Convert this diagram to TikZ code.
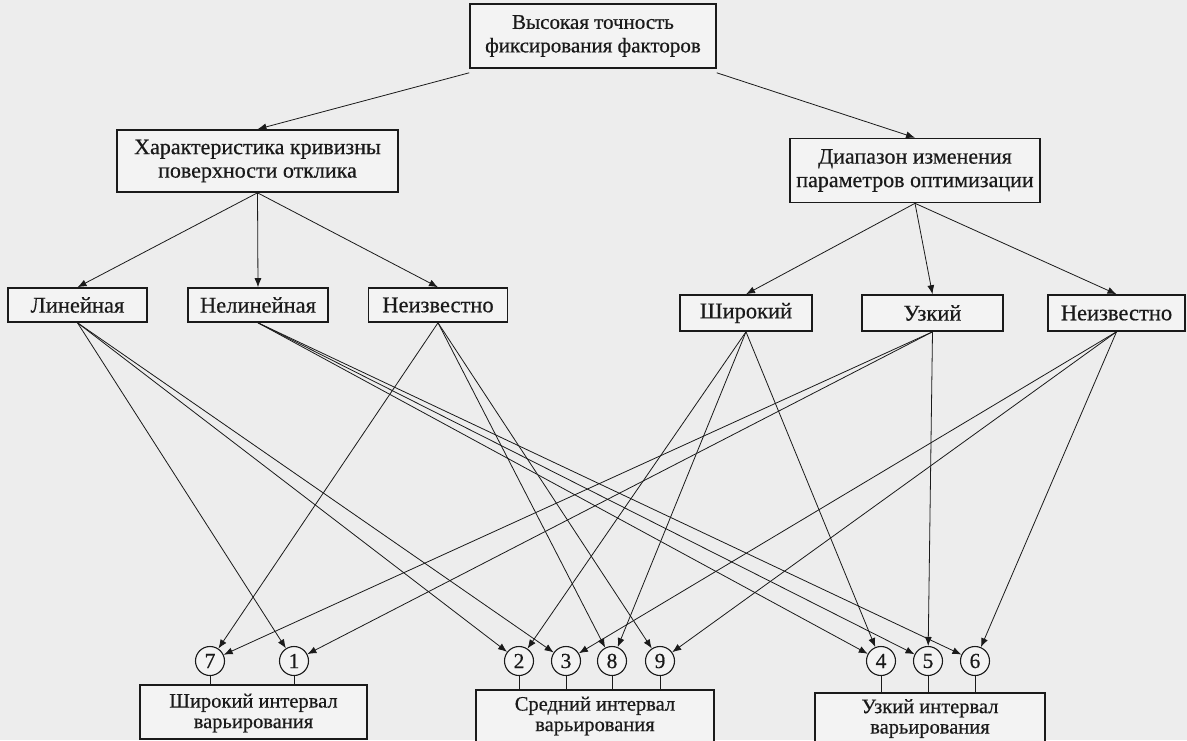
\documentclass[tikz,border=0pt]{standalone}
\usepackage{fontspec}
\setmainfont{Liberation Serif}[FakeBold=0.5]
\usetikzlibrary{arrows.meta}
\definecolor{paper}{HTML}{EDEDED}
\definecolor{boxfill}{HTML}{F3F3F3}
\definecolor{ink}{HTML}{1A1A1A}
\begin{document}
\begin{tikzpicture}[x=1pt,y=-1pt,
  box/.style={draw=ink, fill=boxfill, line width=1.6pt, align=center, inner sep=0pt,
    font=\fontsize{22}{23.5}\selectfont, text=ink},
  txt/.style={align=center, inner sep=0pt, font=\fontsize{20.5}{20.5}\selectfont, text=ink},
  lab/.style={draw=ink, fill=boxfill, line width=1.6pt, inner sep=0pt,
    font=\fontsize{22.5}{24}\selectfont, text=ink},
  num/.style={draw=ink, fill=boxfill, circle, line width=1.1pt, minimum size=29pt, inner sep=0pt,
    font=\fontsize{21.5}{22}\selectfont, text=ink},
  conn/.style={draw=ink, line width=0.8pt, -{Latex[length=9pt,width=7pt]}},
  tie/.style={draw=ink, line width=0.8pt}]
\useasboundingbox (0,0) rectangle (1187,740);
\clip (0,0) rectangle (1187,740);
\fill[paper] (0,0) rectangle (1187,740);

% top level
\node[box, minimum width=246pt, minimum height=64pt, font=\fontsize{21}{23.5}\selectfont] (top) at (593,36)
  {Высокая точность\\фиксирования факторов};
\node[box, minimum width=281pt, minimum height=62pt] (curv) at (257.5,161)
  {Характеристика кривизны\\поверхности отклика};
\node[box, minimum width=250pt, minimum height=64pt] (range) at (915,170.5)
  {Диапазон изменения\\параметров оптимизации};

% second level
\node[lab, minimum width=139pt, minimum height=34pt] (lin) at (77.5,305) {Линейная};
\node[lab, minimum width=140pt, minimum height=34pt] (nonlin) at (258,305) {Нелинейная};
\node[lab, minimum width=139pt, minimum height=34pt] (unkc) at (438,305) {Неизвестно};
\node[lab, minimum width=132pt, minimum height=36pt] (wide) at (746,313) {Широкий};
\node[lab, minimum width=141pt, minimum height=36pt] (narrow) at (932.5,313) {Узкий};
\node[lab, minimum width=137pt, minimum height=36pt] (unkr) at (1116.5,313) {Неизвестно};

% circles
\node[num] (c7) at (210,661) {7};
\node[num] (c1) at (294,661) {1};
\node[num] (c2) at (519,661) {2};
\node[num] (c3) at (566,661) {3};
\node[num] (c8) at (612,661) {8};
\node[num] (c9) at (660,661) {9};
\node[num] (c4) at (881,661) {4};
\node[num] (c5) at (928,661) {5};
\node[num] (c6) at (975,661) {6};

% bottom boxes
\node[box, minimum width=227pt, minimum height=54pt] (iwide) at (253.5,712) {};
\node[txt] (iwidet) at (253.5,713) {Широкий интервал\\варьирования};
\node[box, minimum width=238pt, minimum height=64pt] (imed) at (595,722) {};
\node[txt] (imedt) at (595,716) {Средний интервал\\варьирования};
\node[box, minimum width=230pt, minimum height=64pt] (inarrow) at (930,725) {};
\node[txt] (inarrowt) at (930,718.5) {Узкий интервал\\варьирования};

% top arrows
\draw[conn] ([yshift=-4pt]top.south west) -- (curv.north);
\draw[conn] ([yshift=-4pt]top.south east) -- (range.north);
\draw[conn] (curv.south) -- (lin.north);
\draw[conn] (curv.south) -- (nonlin.north);
\draw[conn] (curv.south) -- (unkc.north);
\draw[conn] (range.south) -- (wide.north);
\draw[conn] (range.south) -- (narrow.north);
\draw[conn] (range.south) -- (unkr.north);

% curvature -> circles
\draw[conn] (lin.south) -- (c1);
\draw[conn] (lin.south) -- (c2);
\draw[conn] (lin.south) -- (c3);
\draw[conn] (nonlin.south) -- (c4);
\draw[conn] (nonlin.south) -- (c5);
\draw[conn] (nonlin.south) -- (c6);
\draw[conn] (unkc.south) -- (c7);
\draw[conn] (unkc.south) -- (c8);
\draw[conn] (unkc.south) -- (c9);
% range -> circles
\draw[conn] (wide.south) -- (c2);
\draw[conn] (wide.south) -- (c4);
\draw[conn] (wide.south) -- (c8);
\draw[conn] (narrow.south) -- (c1);
\draw[conn] (narrow.south) -- (c5);
\draw[conn] (narrow.south) -- (c7);
\draw[conn] (unkr.south) -- (c3);
\draw[conn] (unkr.south) -- (c6);
\draw[conn] (unkr.south) -- (c9);

% circles -> result boxes
\draw[tie] (c7.south) -- (c7.south |- iwide.north);
\draw[tie] (c1.south) -- (c1.south |- iwide.north);
\draw[tie] (c2.south) -- (c2.south |- imed.north);
\draw[tie] (c3.south) -- (c3.south |- imed.north);
\draw[tie] (c8.south) -- (c8.south |- imed.north);
\draw[tie] (c9.south) -- (c9.south |- imed.north);
\draw[tie] (c4.south) -- (c4.south |- inarrow.north);
\draw[tie] (c5.south) -- (c5.south |- inarrow.north);
\draw[tie] (c6.south) -- (c6.south |- inarrow.north);
\end{tikzpicture}
\end{document}
